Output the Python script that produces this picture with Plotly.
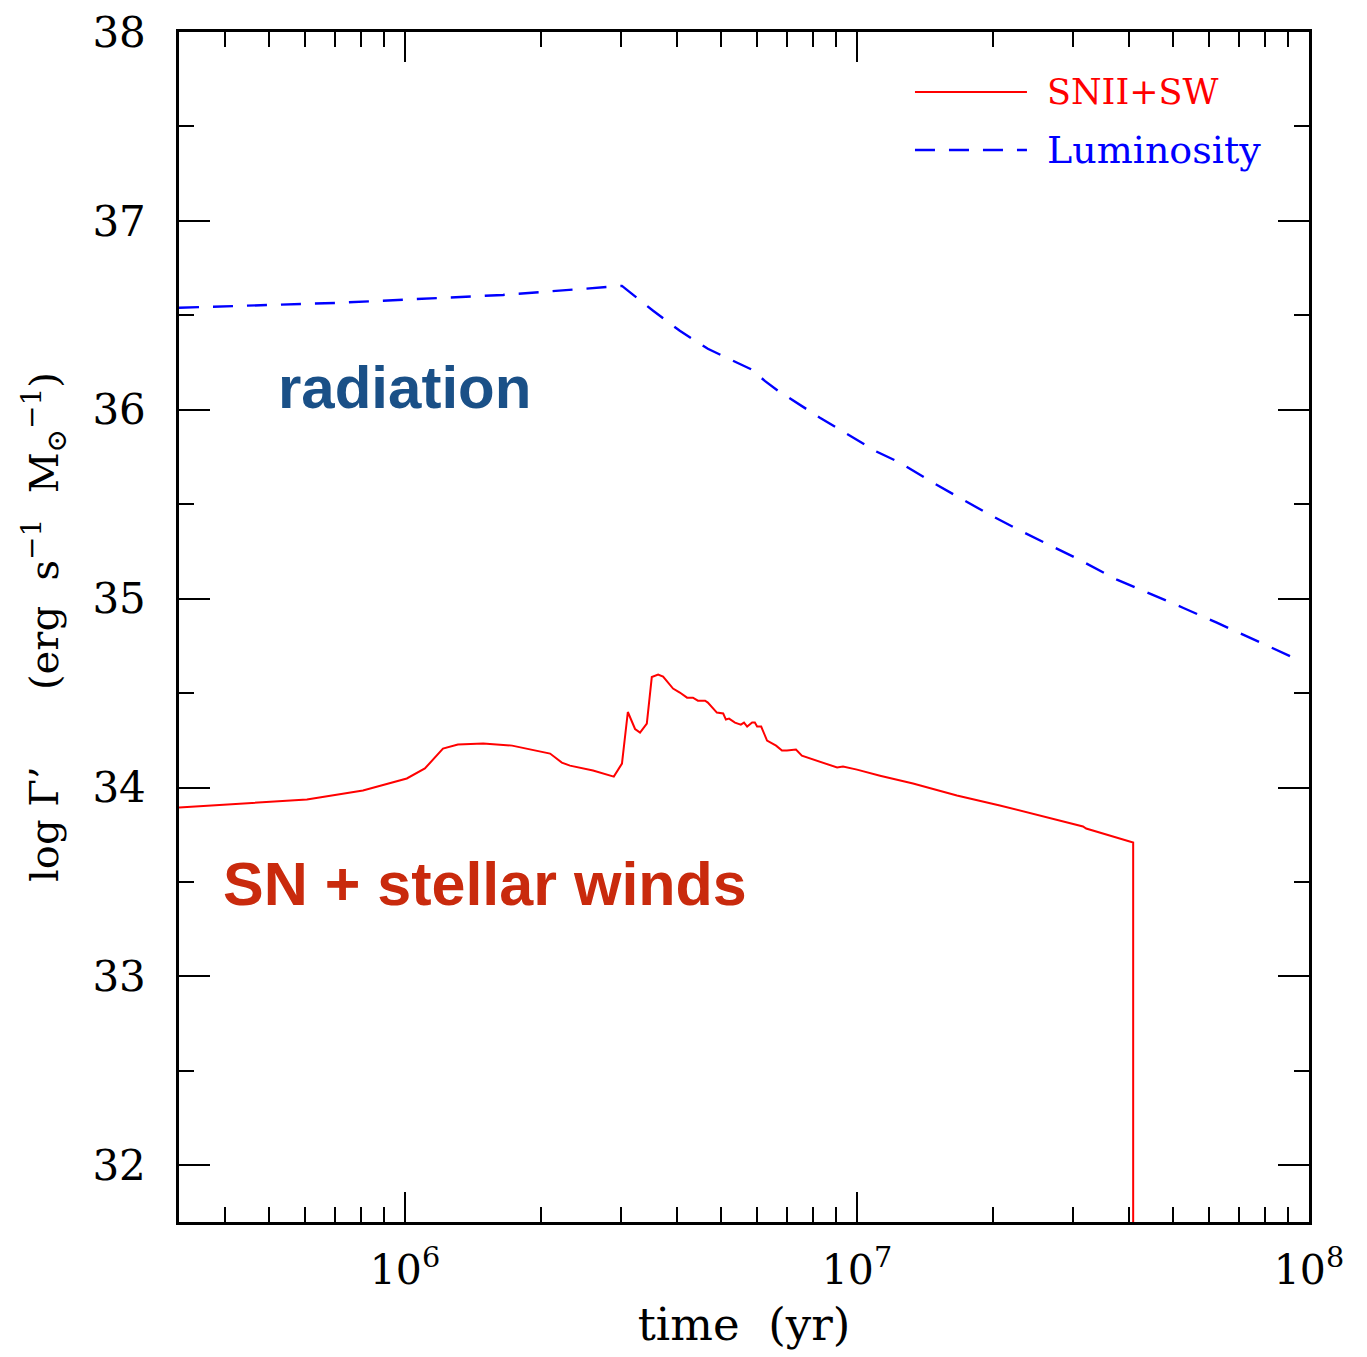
import numpy as np
import plotly.graph_objects as go

# ---- data (log10 of time in yr, log Gamma') ----
snsw_logt = [5.5, 5.783, 5.907, 6.004, 6.044, 6.084, 6.117, 6.173, 6.237, 6.321, 6.347, 6.365,
             6.416, 6.462, 6.480, 6.493, 6.509, 6.520, 6.535, 6.546, 6.560, 6.571, 6.593, 6.608,
             6.624, 6.637, 6.648, 6.664, 6.670, 6.690, 6.704, 6.710, 6.717, 6.730, 6.743, 6.750,
             6.757, 6.768, 6.774, 6.779, 6.788, 6.801, 6.821, 6.834, 6.845, 6.865, 6.878, 6.903,
             6.936, 6.956, 6.969, 7.0, 7.051, 7.124, 7.221, 7.316, 7.500, 7.507, 7.611, 7.611]
snsw_val = [33.894, 33.937, 33.984, 34.048, 34.101, 34.206, 34.228, 34.233, 34.222, 34.180, 34.132, 34.116,
            34.090, 34.058, 34.127, 34.400, 34.310, 34.291, 34.339, 34.585, 34.598, 34.587, 34.524, 34.503,
            34.476, 34.476, 34.460, 34.460, 34.450, 34.397, 34.392, 34.360, 34.365, 34.344, 34.333, 34.344,
            34.323, 34.344, 34.344, 34.323, 34.323, 34.249, 34.222, 34.196, 34.196, 34.201, 34.169, 34.148,
            34.122, 34.106, 34.111, 34.095, 34.063, 34.021, 33.958, 33.905, 33.794, 33.783, 33.709, 30.0]

lum_logt = [5.5, 5.85, 6.217, 6.480, 6.549, 6.608, 6.670, 6.701, 6.735, 6.768, 6.796, 6.825,
            6.918, 7.044, 7.095, 7.168, 7.294, 7.361, 7.487, 7.575, 7.664, 7.721, 7.796, 7.854, 7.980]
lum_val = [36.540, 36.566, 36.608, 36.656, 36.524, 36.418, 36.323, 36.286, 36.249, 36.212, 36.153, 36.101,
           35.958, 35.778, 35.720, 35.614, 35.444, 35.360, 35.212, 35.101, 35.011, 34.952, 34.873, 34.810, 34.672]

x_major_vals = [1e6, 1e7, 1e8]
x_major_text = ["10<sup>6</sup>", "10<sup>7</sup>", "10<sup>8</sup>"]
x_minor_vals = [m * 10 ** d for d in (5, 6, 7) for m in range(2, 10) if m * 10 ** d > 10 ** 5.5]
y_ticks = [32, 33, 34, 35, 36, 37, 38]

serif = "DejaVu Serif"

fig = go.Figure()
fig.add_trace(go.Scatter(x=10 ** np.array(snsw_logt), y=snsw_val, mode="lines",
                         line=dict(color="#ff0000", width=2), showlegend=False))
fig.add_trace(go.Scatter(x=10 ** np.array(lum_logt), y=lum_val, mode="lines",
                         line=dict(color="#0000ff", width=2.4, dash="20px,14px"), showlegend=False))

fig.update_layout(
    width=1367, height=1357,
    margin=dict(l=179, r=58, t=32, b=135, autoexpand=False),
    paper_bgcolor="white", plot_bgcolor="white",
    font=dict(family=serif, color="black"),
)
fig.update_xaxes(
    type="log", range=[5.5, 8], showgrid=False, zeroline=False, automargin=False,
    showline=True, linecolor="black", linewidth=2.5, mirror="ticks",
    ticks="inside", ticklen=30, tickwidth=2, tickcolor="black",
    tickmode="array", tickvals=x_major_vals, ticktext=x_major_text,
    tickfont=dict(size=41, family=serif), ticklabelstandoff=10,
    minor=dict(ticks="inside", ticklen=15, tickwidth=2, tickcolor="black",
               tickmode="array", tickvals=x_minor_vals, showgrid=False),
    title=dict(text="time  (yr)", font=dict(size=45, family=serif), standoff=16),
)
fig.update_yaxes(
    range=[31.7, 38], showgrid=False, zeroline=False, automargin=False,
    showline=True, linecolor="black", linewidth=2.5, mirror="ticks",
    ticks="inside", ticklen=31, tickwidth=2, tickcolor="black",
    tickmode="array", tickvals=y_ticks,
    tickfont=dict(size=42, family=serif), ticklabelstandoff=22,
    minor=dict(ticks="inside", ticklen=15, tickwidth=2, tickcolor="black",
               dtick=0.5, showgrid=False),
    title=dict(text="log Γ’      (erg  s<sup>−1</sup>  M<sub>⊙</sub><sup>−1</sup>)",
               font=dict(size=40, family=serif), standoff=22),
)

# text labels inside plot
fig.add_annotation(x=5.999, y=36.116, xref="x", yref="y", text="<b>radiation</b>", showarrow=False,
                   font=dict(family="Liberation Sans", size=60, color="#1a5087"))
fig.add_annotation(x=6.177, y=33.487, xref="x", yref="y", text="<b>SN + stellar winds</b>", showarrow=False,
                   font=dict(family="Liberation Sans", size=61, color="#c92a0d"))

# manual legend
fig.add_shape(type="line", xref="paper", yref="paper", x0=0.6513, x1=0.7504, y0=0.9496, y1=0.9496,
              line=dict(color="#ff0000", width=2))
fig.add_shape(type="line", xref="paper", yref="paper", x0=0.6513, x1=0.7504, y0=0.9008, y1=0.9008,
              line=dict(color="#0000ff", width=2.4, dash="20px,14px"))
fig.add_annotation(x=0.766, y=0.9496, xref="paper", yref="paper", text="SNII+SW", showarrow=False,
                   xanchor="left", yanchor="middle", font=dict(family=serif, size=35, color="#ff0000"))
fig.add_annotation(x=0.766, y=0.9008, xref="paper", yref="paper", text="Luminosity", showarrow=False,
                   xanchor="left", yanchor="middle", font=dict(family=serif, size=38, color="#0000ff"))

fig.write_html("out.html")
